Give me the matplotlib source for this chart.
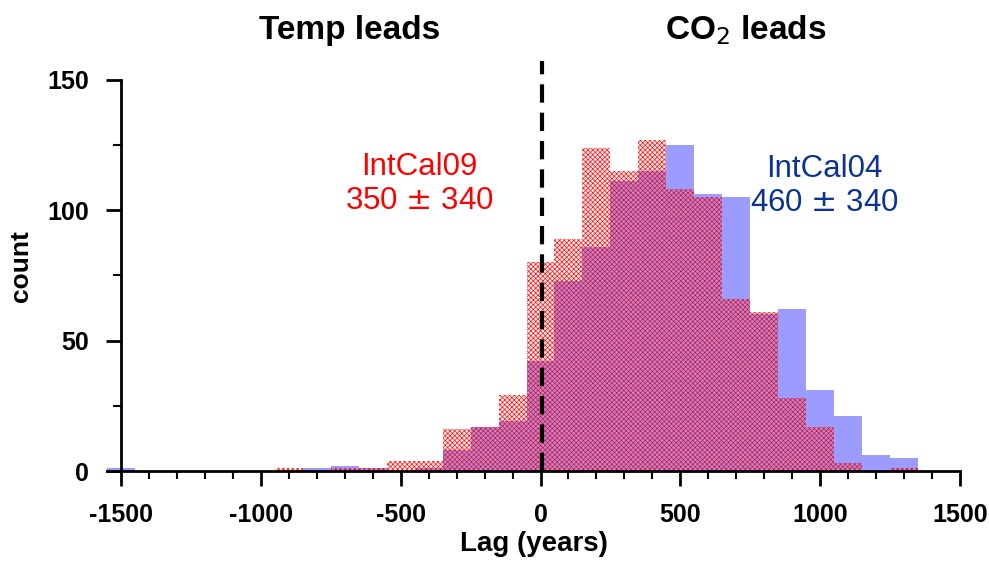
import numpy as np
import matplotlib.pyplot as plt

plt.rcParams['font.family'] = ['Liberation Sans', 'DejaVu Sans']
plt.rcParams['axes.unicode_minus'] = False
plt.rcParams['hatch.linewidth'] = 0.45
plt.rcParams['hatch.color'] = 'red'

# bin centres (years) and counts
bin_centers = np.arange(-1500, 1301, 100)
intcal04 = [1, 0, 0, 0, 0, 0, 0, 1, 2, 1, 0, 1, 8, 17, 19,
            42, 73, 86, 111, 115, 125, 106, 105, 60, 62, 31, 21, 6, 5]
intcal09 = [0, 0, 0, 0, 0, 0, 1, 0, 1, 1, 4, 4, 16, 17, 29,
            80, 89, 124, 115, 127, 108, 105, 66, 61, 28, 17, 3, 0, 1]

fig = plt.figure(figsize=(9.89, 5.62), dpi=100)
ax = fig.add_axes([0.1082, 0.1619, 0.8625, 0.7288])

ax.bar(bin_centers, intcal04, width=100, color='#9c9cff', linewidth=0, zorder=2)
ax.bar(bin_centers, intcal09, width=100, facecolor=(1, 0, 0, 0.08),
       edgecolor='red', hatch='xxxxxxx', linewidth=0, zorder=3)

ax.plot([5, 5], [0, 157], color='black', lw=3, dashes=(4.4, 2.4), zorder=4)

ax.set_xlim(-1550, 1500)
ax.set_ylim(0, 157)
for s in ['top', 'right']:
    ax.spines[s].set_visible(False)
ax.spines['left'].set_position(('data', -1500))
ax.spines['left'].set_bounds(0, 150)
ax.spines['left'].set_linewidth(2)
ax.spines['bottom'].set_linewidth(2)
ax.spines['left'].set_zorder(5)
ax.spines['bottom'].set_zorder(5)

ax.set_xticks(np.arange(-1500, 1501, 500))
ax.set_xticks(np.arange(-1500, 1501, 100), minor=True)
ax.set_yticks([0, 50, 100, 150])
ax.set_yticks(np.arange(0, 151, 25), minor=True)
ax.tick_params(which='major', length=11, width=2, direction='out', labelsize=18, pad=12)
ax.tick_params(which='minor', length=6, width=1.5, direction='out')
for lab in ax.get_xticklabels() + ax.get_yticklabels():
    lab.set_fontweight('bold')

ax.set_xlabel('Lag (years)', fontsize=20, fontweight='bold', labelpad=3)
ax.set_ylabel('count', fontsize=19, fontweight='bold', labelpad=10)

fig.text(350 / 989, 1 - 30 / 562, 'Temp leads', fontsize=24, fontweight='bold',
         ha='center', va='center')
fig.text(746 / 989, 1 - 30 / 562, 'CO$_2$ leads', fontsize=24, fontweight='bold',
         ha='center', va='center')

fig.text(419 / 989, 1 - 184 / 562, 'IntCal09\n350 $\\pm$ 340', fontsize=22.5, color='red',
         ha='center', va='center', linespacing=1.15)
fig.text(824 / 989, 1 - 186 / 562, 'IntCal04\n460 $\\pm$ 340', fontsize=22.5, color='#0a3296',
         ha='center', va='center', linespacing=1.15)

fig.savefig('out.png', dpi=100)
